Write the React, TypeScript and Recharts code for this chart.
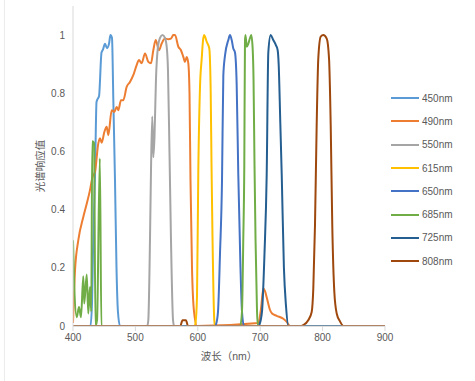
import React from 'react';
import { LineChart, Line, XAxis, YAxis } from 'recharts';

// wavelength (nm), response value
const s450 = [[400,0],[428,0],[430.5,0.08],[432,0.25],[435.3,0.52],[437.7,0.77],[439.3,0.78],[441.7,0.79],[445.7,0.94],[448,0.95],[451.3,0.97],[454.5,0.955],[457.7,0.97],[460,1.0],[462.5,0.99],[464.6,0.78],[467.3,0.5],[469.7,0.2],[472,0.05],[475.3,0],[900,0]];
const s490 = [[400,0.01],[403.2,0.19],[408.5,0.295],[416.5,0.375],[422,0.42],[427.2,0.467],[431,0.51],[435.3,0.53],[440.5,0.627],[443.3,0.645],[446,0.63],[450.2,0.667],[454,0.685],[456.6,0.656],[462,0.742],[466.2,0.736],[470,0.753],[472.6,0.742],[476.9,0.776],[480.6,0.776],[486,0.822],[491.3,0.839],[496.6,0.862],[502,0.897],[505.8,0.914],[510,0.903],[515.4,0.937],[520.7,0.908],[525,0.903],[528.7,0.948],[532.5,0.983],[537.8,0.948],[542.1,0.971],[547.4,0.988],[552.7,0.986],[557,0.988],[560.7,1.0],[563.5,1.0],[568.8,0.96],[573,0.948],[576.8,0.925],[579.5,0.908],[582.2,0.925],[584.8,0.903],[586.7,0.8],[588.3,0.5],[590.7,0.2],[593.9,0.05],[598.7,0],[697,0.01],[701.3,0.06],[705,0.129],[707.7,0.12],[711.4,0.09],[715.7,0.055],[719,0.043],[726.4,0.035],[737,0.025],[742.5,0.014],[747.8,0],[900,0]];
const s550 = [[400,0],[519,0],[520.7,0.02],[523.4,0.3],[525,0.535],[527,0.72],[528.7,0.58],[530.6,0.65],[533,0.85],[536.2,0.96],[539.4,0.99],[543.4,1.0],[547.4,0.99],[550.6,0.95],[552.2,0.88],[554.6,0.6],[557,0.3],[560.3,0.02],[562,0],[900,0]];
const s615 = [[400,0],[595,0],[596.3,0.01],[598.7,0.1],[600.8,0.53],[603.5,0.82],[606.3,0.92],[608.3,0.98],[610,1.0],[611.5,0.995],[614.3,0.977],[618.4,0.954],[620.7,0.8],[622,0.55],[623.6,0.3],[626.4,0.02],[627.6,0],[900,0]];
const s650 = [[400,0],[628,0],[629.2,0.005],[632.4,0.05],[635.6,0.25],[638.8,0.5],[640.9,0.86],[643.6,0.93],[648.9,0.983],[651.6,1.0],[654.3,0.983],[656.9,0.954],[659.6,0.94],[662.3,0.83],[664.9,0.52],[668.4,0.2],[670.8,0.05],[674,0],[900,0]];
const s685 = [[400,0.295],[402,0.134],[406,0.03],[409.6,0.065],[412.8,0.03],[416.5,0.171],[418,0.077],[422,0.177],[424.5,0.043],[427.2,0.134],[429.2,0.05],[430.9,0.635],[433.7,0.63],[436,0],[438.5,0.02],[443,0.576],[445.5,0],[668,0],[670.8,0.05],[672.9,0.3],[674.5,0.55],[675.6,0.98],[676.4,1.0],[678.4,0.96],[680.9,0.97],[683.7,0.99],[685.7,1.0],[688,0.95],[689.3,0.85],[690.9,0.55],[692.5,0.3],[694.9,0.05],[696.5,0],[900,0]];
const s725 = [[400,0],[698,0],[698.9,0.005],[702.9,0.05],[706.9,0.25],[710.4,0.52],[713,0.94],[716.8,1.0],[721,0.983],[725.3,0.965],[728,0.948],[729.6,0.9],[732.2,0.7],[734.5,0.52],[738,0.2],[741.3,0.07],[745.3,0],[900,0]];
const s808 = [[400,0],[572,0],[575.5,0.02],[581,0.02],[584.3,0],[766,0],[769,0.003],[777,0.02],[782.5,0.048],[785.1,0.129],[787.8,0.346],[790.5,0.69],[793.1,0.92],[797,0.995],[801.1,1.0],[806.6,0.988],[810.3,0.92],[813,0.69],[815.5,0.346],[818.8,0.117],[822.6,0.043],[827.9,0.016],[833.2,0],[900,0]];

const seriesNames = ['450nm', '490nm', '550nm', '615nm', '650nm', '685nm', '725nm', '808nm'];
const seriesValues = [s450, s490, s550, s615, s650, s685, s725, s808];
const seriesColors = ['#5B9BD5', '#ED7D31', '#A5A5A5', '#FFC000', '#4472C4', '#70AD47', '#255E91', '#9E480E'];

const wavelengthTicks = [400, 500, 600, 700, 800, 900];
const responseTicks = [0, 0.2, 0.4, 0.6, 0.8, 1];
const xTitle = '波长（nm）';
const yTitle = '光谱响应值';

const FONT = "'Liberation Sans', 'Noto Sans CJK SC', sans-serif";
const TEXT = '#595959';

const toPts = (a: number[][]) => a.map(([nm, v]) => ({ nm, v }));

function ChartLegend() {
  return (
    <div style={{ position: 'absolute', left: 391, top: 86.5, fontFamily: FONT, fontSize: 10, color: TEXT }}>
      {seriesNames.map((n, i) => (
        <div key={n} style={{ height: 23.3, display: 'flex', alignItems: 'center' }}>
          <div style={{ width: 28, height: 2, background: seriesColors[i], marginRight: 3 }} />
          <span>{n}</span>
        </div>
      ))}
    </div>
  );
}

export default function App() {
  return (
    <div style={{ position: 'absolute', left: 0, top: 0, width: 475, height: 381, background: '#fff', fontFamily: FONT }}>
      <div style={{ position: 'absolute', left: 4, top: 0, width: 1, height: 381, background: '#ececec' }} />
      <LineChart width={475} height={381} margin={{ top: 6, right: 90, bottom: 0, left: 0 }}>
        <XAxis
          dataKey="nm"
          type="number"
          domain={[400, 900]}
          ticks={wavelengthTicks}
          allowDataOverflow
          height={55}
          stroke="#bfbfbf"
          tickLine={{ stroke: '#d9d9d9' }}
          tickSize={5}
          tickMargin={3}
          tick={{ fill: TEXT, fontSize: 10, fontFamily: FONT }}
          label={{ value: xTitle, position: 'center', dy: 3, fill: TEXT, fontSize: 10.5, fontFamily: FONT }}
        />
        <YAxis
          type="number"
          domain={[0, 1.1]}
          ticks={responseTicks}
          allowDataOverflow
          width={73}
          stroke="#d9d9d9"
          tickLine={false}
          tick={{ fill: TEXT, fontSize: 10, fontFamily: FONT }}
          label={{ value: yTitle, angle: -90, position: 'center', dx: 3.5, fill: TEXT, fontSize: 10.5, fontFamily: FONT }}
        />
        {seriesNames.map((name, i) => (
          <Line
            key={name}
            name={name}
            data={toPts(seriesValues[i])}
            dataKey="v"
            type="monotone"
            stroke={seriesColors[i]}
            strokeWidth={2}
            dot={false}
            activeDot={false}
            isAnimationActive={false}
          />
        ))}
      </LineChart>
      <ChartLegend />
    </div>
  );
}
